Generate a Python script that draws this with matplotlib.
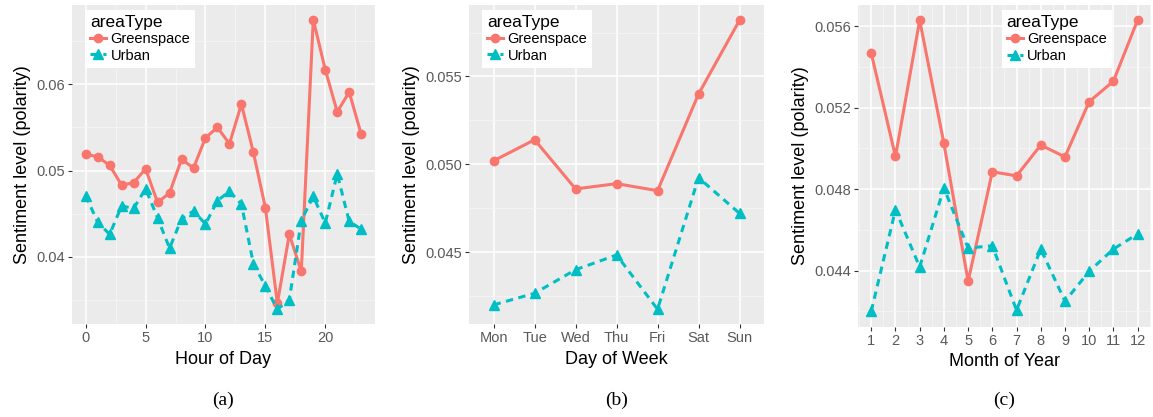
import matplotlib.pyplot as plt
from matplotlib.ticker import FixedLocator

plt.rcParams["font.family"] = ["Liberation Sans", "DejaVu Sans"]

GREEN = "#F8766D"
URBAN = "#00BFC4"

hours = list(range(24))
hour_green = [0.0519, 0.0516, 0.0506, 0.0483, 0.0486, 0.0502, 0.0463, 0.0474,
              0.0513, 0.0503, 0.0538, 0.0550, 0.0531, 0.0577, 0.0521, 0.0457,
              0.0346, 0.0426, 0.0383, 0.0675, 0.0617, 0.0568, 0.0591, 0.0542]
hour_urban = [0.0471, 0.0440, 0.0426, 0.0459, 0.0456, 0.0479, 0.0445, 0.0410,
              0.0444, 0.0453, 0.0438, 0.0465, 0.0476, 0.0461, 0.0392, 0.0366,
              0.0339, 0.0350, 0.0442, 0.0470, 0.0439, 0.0496, 0.0441, 0.0432]

days = ["Mon", "Tue", "Wed", "Thu", "Fri", "Sat", "Sun"]
day_green = [0.0502, 0.0514, 0.0486, 0.0489, 0.0485, 0.0540, 0.0582]
day_urban = [0.0420, 0.04266, 0.0440, 0.04484, 0.04175, 0.04924, 0.04721]

months = list(range(1, 13))
month_green = [0.05466, 0.0496, 0.05629, 0.05024, 0.04348, 0.04885,
               0.04865, 0.05016, 0.04958, 0.05229, 0.05329, 0.05629]
month_urban = [0.04201, 0.04699, 0.04418, 0.04805, 0.04511, 0.04522,
               0.04206, 0.04506, 0.0425, 0.04397, 0.04506, 0.0458]


def style_axes(ax, xmajor, xminor, ymajor, yminor, ylabels):
    ax.set_facecolor("#EBEBEB")
    for s in ax.spines.values():
        s.set_visible(False)
    ax.xaxis.set_major_locator(FixedLocator(xmajor))
    ax.yaxis.set_major_locator(FixedLocator(ymajor))
    ax.set_yticklabels(ylabels)
    if xminor:
        ax.set_xticks(xminor, minor=True)
    ax.set_yticks(yminor, minor=True)
    ax.grid(which="major", color="white", lw=1.1)
    ax.grid(which="minor", color="#F5F5F5", lw=0.6)
    ax.set_axisbelow(True)
    ax.tick_params(which="major", length=3, width=0.8, color="#333333",
                   labelsize=10.5, labelcolor="#595959", pad=2)
    ax.tick_params(which="minor", length=0)
    ax.set_ylabel("Sentiment level (polarity)", fontsize=13, labelpad=4)


def draw(ax, x, g, u):
    ax.plot(x, g, color=GREEN, lw=2.2, marker="o", ms=6, label="Greenspace")
    ax.plot(x, u, color=URBAN, lw=2.2, ls=(0, (2.4, 1.8)), marker="^", ms=7.5,
            label="Urban")


def add_legend(ax, loc, anchor):
    leg = ax.legend(title="areaType", loc=loc, bbox_to_anchor=anchor,
                    frameon=True, fancybox=False, framealpha=1,
                    edgecolor="none", facecolor="white", fontsize=10.5,
                    title_fontsize=12.5, handlelength=1.1, handletextpad=0.3,
                    labelspacing=0.15, borderpad=0.35, borderaxespad=0,
                    alignment="left")
    return leg


fig = plt.figure(figsize=(11.53, 4.17), dpi=100)

ax1 = fig.add_axes([0.0624, 0.223, 0.2628, 0.765])
draw(ax1, hours, hour_green, hour_urban)
style_axes(ax1, [0, 5, 10, 15, 20], [2.5, 7.5, 12.5, 17.5, 22.5],
           [0.04, 0.05, 0.06], [0.035, 0.045, 0.055, 0.065],
           ["0.04", "0.05", "0.06"])
ax1.set_xlim(-1.15, 24.15)
ax1.set_ylim(0.0322, 0.0692)
ax1.set_xlabel("Hour of Day", fontsize=13, labelpad=4)
add_legend(ax1, "upper left", (0.043, 0.984))

ax2 = fig.add_axes([0.4068, 0.223, 0.2559, 0.765])
xd = list(range(len(days)))
draw(ax2, xd, day_green, day_urban)
style_axes(ax2, xd, None, [0.045, 0.050, 0.055],
           [0.0425, 0.0475, 0.0525, 0.0575], ["0.045", "0.050", "0.055"])
ax2.set_xticklabels(days)
ax2.set_xlim(-0.6, 6.6)
ax2.set_ylim(0.04091, 0.05907)
ax2.set_xlabel("Day of Week", fontsize=13, labelpad=4)
add_legend(ax2, "upper left", (0.044, 0.984))

ax3 = fig.add_axes([0.7441, 0.216, 0.2541, 0.772])
draw(ax3, months, month_green, month_urban)
style_axes(ax3, months, [m + 0.5 for m in range(0, 13)],
           [0.044, 0.048, 0.052, 0.056], [0.042, 0.046, 0.050, 0.054],
           ["0.044", "0.048", "0.052", "0.056"])
ax3.set_xlim(0.45, 12.55)
ax3.set_ylim(0.04124, 0.05703)
ax3.set_xlabel("Month of Year", fontsize=13, labelpad=4)
add_legend(ax3, "upper right", (0.867, 0.984))

for ax, tag in [(ax1, "(a)"), (ax2, "(b)"), (ax3, "(c)")]:
    bb = ax.get_position()
    fig.text(bb.x0 + bb.width / 2, 1 - 400 / 417, tag, ha="center",
             va="center", fontsize=14, family=["Liberation Serif"])

fig.savefig("out.png", dpi=100)
